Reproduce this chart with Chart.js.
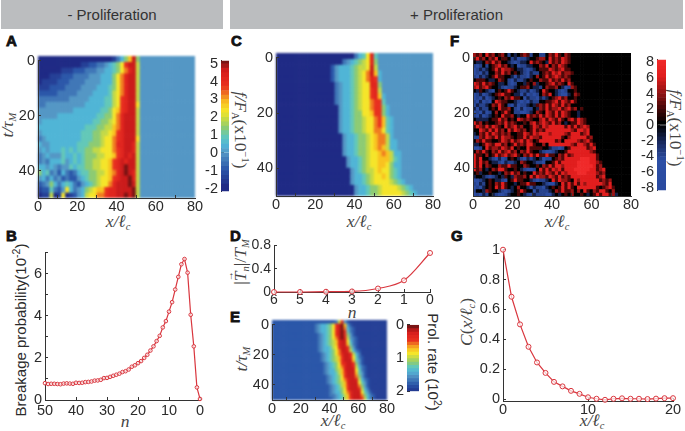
<!DOCTYPE html>
<html>
<head>
<meta charset="utf-8">
<script src="https://cdn.jsdelivr.net/npm/chart.js@4"></script>
<style>
html, body { margin: 0; padding: 0; background: #fff; }
#page { position: relative; width: 685px; height: 431px; overflow: hidden; font-family: "Liberation Sans", sans-serif; color: #2b2b2b; }
canvas { position: absolute; }
.band { position: absolute; top: 0; height: 28.5px; background: #bbbdbf; text-align: center; font-size: 15px; line-height: 30px; color: #333; }
.tag { position: absolute; font-size: 15px; font-weight: bold; line-height: 15px; color: #111; -webkit-text-stroke: 0.8px #111; }
.lab { position: absolute; white-space: nowrap; line-height: 1; font-family: "Liberation Serif", serif; font-size: 17.5px; color: #444; }
.lab i { font-style: italic; }
.lab sub { font-size: 10.5px; line-height: 0; vertical-align: -3px; }
.lab sup { font-size: 10.5px; line-height: 0; }
.lab.sans { font-family: "Liberation Sans", sans-serif; color: #2b2b2b; font-size: 15px; }
.vec { position: relative; display: inline-block; }
.vec span { position: absolute; left: 0; top: -7px; font-size: 10px; font-style: normal; }
</style>
</head>
<body>
<div id="page">
  <div class="band" style="left:1px;width:222px">- Proliferation</div>
  <div class="band" style="left:230px;width:453px">+ Proliferation</div>
  <div class="tag" style="left:6px;top:33px">A</div>
  <div class="tag" style="left:6px;top:228px">B</div>
  <div class="tag" style="left:231px;top:33px">C</div>
  <div class="tag" style="left:230px;top:228px">D</div>
  <div class="tag" style="left:230px;top:309px">E</div>
  <div class="tag" style="left:450px;top:33px">F</div>
  <div class="tag" style="left:451px;top:228px">G</div>

  <div class="lab" style="left:8px;top:125px;transform:translate(-50%,-50%) rotate(-90deg)"><i>t/τ<sub>M</sub></i></div>
  <div class="lab" style="left:118px;top:222px;transform:translate(-50%,-50%)"><i>x/ℓ<sub>c</sub></i></div>
  <div class="lab" style="left:359px;top:222px;transform:translate(-50%,-50%)"><i>x/ℓ<sub>c</sub></i></div>
  <div class="lab" style="left:557px;top:222px;transform:translate(-50%,-50%)"><i>x/ℓ<sub>c</sub></i></div>
  <div class="lab" style="left:240px;top:130px;transform:translate(-50%,-50%) rotate(90deg)"><i>f/F</i><sub>A</sub>(x10<sup>−1</sup>)</div>
  <div class="lab" style="left:675px;top:128px;transform:translate(-50%,-50%) rotate(90deg)"><i>f/F</i><sub>A</sub>(x10<sup>−1</sup>)</div>
  <div class="lab sans" style="left:20px;top:330px;transform:translate(-50%,-50%) rotate(-90deg)">Breakage probability(10<sup>-2</sup>)</div>
  <div class="lab" style="left:125px;top:422px;transform:translate(-50%,-50%)"><i>n</i></div>
  <div class="lab" style="left:241px;top:262px;transform:translate(-50%,-50%) rotate(-90deg)">|<span class="vec"><i>T</i><span>→</span></span><i><sub>n</sub></i>|/<i>T<sub>M</sub></i></div>
  <div class="lab" style="left:352px;top:313px;transform:translate(-50%,-50%)"><i>n</i></div>
  <div class="lab" style="left:242px;top:359px;transform:translate(-50%,-50%) rotate(-90deg)"><i>t/τ<sub>M</sub></i></div>
  <div class="lab" style="left:333px;top:421px;transform:translate(-50%,-50%)"><i>x/ℓ<sub>c</sub></i></div>
  <div class="lab sans" style="left:433px;top:362px;transform:translate(-50%,-50%) rotate(90deg)">Prol. rate (10<sup>2</sup>)</div>
  <div class="lab" style="left:467px;top:322px;transform:translate(-50%,-50%) rotate(-90deg)"><i>C</i>(<i>x/ℓ<sub>c</sub></i>)</div>
  <div class="lab" style="left:592px;top:421px;transform:translate(-50%,-50%)"><i>x/ℓ<sub>c</sub></i></div>
</div>
<script>
// heat maps, read by eye, one string per row (t = 0 at top), one hex level per cell
const heatA = [
    "00000000000000000001357ae7",
    "0000000000011223345679cee8",
    "0000001112223334455679bde8",
    "000111222333344455579bdee8",
    "011112223333444455579bdee8",
    "111222233334444555679bdee8",
    "222223333344445555689bdee8",
    "333333334444455556689cdee8",
    "334444444444555556689cdee9",
    "44444444455555556679acdee8",
    "44444555555555566779bdeee8",
    "45555555555555667789bdeee8",
    "5555555555556667788abdeee8",
    "4555555555566677889acdeee8",
    "3455555555566677899bcdeee9",
    "5445555555666777899bddeed8",
    "4545556565667788999bcdeed8",
    "3454446556567778899acdede8",
    "343555645656778899acdedee8",
    "554543446566778899acdefee8",
    "756342532356677889abdefed8",
    "453534232245677899acdeefd8",
    "234753565324567899bdeeefe8",
    "122632495345789aacddeeeef8",
    "011801901245899bbcddeefef8"
];
const heatC = [
    "000000000000000000003569d6",
    "000000000000000003456789d7",
    "000000000000002455567889e8",
    "00000000000000245556789bea5",
    "00000000000000245556789bdc5",
    "000000000000000345567899dd7",
    "000000000000000345567899cd8",
    "000000000000000345567899cda5",
    "000000000000000345567899bcc6",
    "000000000000000045567899bcc75",
    "000000000000000045567799acc75",
    "0000000000000000455677899bca65",
    "0000000000000000455677899bca65",
    "0000000000000000455677899bb965",
    "0000000000000000045567789abb85",
    "0000000000000000045567789abb855",
    "0000000000000000045567789aba855",
    "00000000000000000455677899aba855",
    "00000000000000000045567899aaa865",
    "00000000000000000045567899aa9755",
    "000000000000000000045678 89a99765".replace(" ", ""),
    "000000000000000000045567899a9765",
    "000000000000000000045567899998765",
    "00000000000000000000455677899998765",
    "000000000000000000004556778999998765"
];
const heatE = [
    "222222222222222222222238c42",
    "2222222222222223455679cefa42",
    "2222222222222223455679cefb532",
    "2222222222222223455679cefc632",
    "2222222222222222345679cefc742",
    "2222222222222222345679befd8432",
    "2222222222222222345678adee9532",
    "2222222222222222345678adeea632",
    "22222222222222223455689ceec742",
    "22222222222222223455679beed8532",
    "22222222222222222345679bdeed853",
    "22222222222222222345678aceed9632",
    "22222222222222222345678aceeea642",
    "222222222222222222345679cdeec742",
    "222222222222222222345679bdeed8532",
    "222222222222222222345578adeee9632",
    "222222222222222222345568aceeea642",
    "2222222222222222222345679ceeeb742",
    "2222222222222222222345679bdeed8532",
    "2222222222222222222345678adeee9642",
    "2222222222222222222234568aceeeb742",
    "22222222222222222222345679ceeed853",
    "22222222222222222222345579bdeee9642",
    "22222222222222222222334568adeeeb7532",
    "22222222222222222222234568aceeec8532"
];
// finer grid than the others. level 7 is zero force, 0 is about -7, f is +8
const heatF = [
    "b9b7d9b79b737579b9377337b9d97b9",
    "9d9b7b9d7997351335779bb7d9b9db9",
    "7557b9d9b775313557d9b975d9b9db9",
    "3137379bd9b7571335577b9d7b9db97",
    "1353579d9dbb975531357999db9bd99",
    "1315377b9d9b79753153379b9dbd9bb9",
    "3153579d997751533157b79d9bdb9b97",
    "79997557b973153357977b99d9b9d9b7",
    "db9d9b9755731377597b5779bd9b97d9",
    "bd9bd977531335799b75537b99b7513b9",
    "75975317979d9753351357d9775313779",
    "13513579bd997551513137b9d7531157b9",
    "1315135797b9d9971533153579bd9b7797",
    "3151317db9977531315337799bd9db9d97",
    "153357b9d973151335759b9d9db9d9b777",
    "51533797d99b731513375b9d9bbd9bd9b79",
    "1315137b79d973311357b97db9d9db97757",
    "315135797d99b7577d9b9d9db9d9db9775",
    "75555799d9b797db9b977bd9db9d97bd9db9",
    "d9b79779b9d9b97797bd9bdb9d9b75799db9",
    "9db9d9db97d9bd9b779db9dbddddd9d9d9bdb",
    "77db9d9d9b7d9db9b79d9b9ddddddddb9ddbd",
    "57b9d9db9b9b7799db9dbdddbddddb9ddd9bd",
    "33b9db9d9dbb9799d9dbb9dddddd97bddddd9b",
    "7b9d99779db9d9bd9db79ddddd9b7ddddb9bd9",
    "5579db9dd9b79d9b9dd977b7dddddddb9ddb9d9",
    "1137d9bb9db9d7977d9999775331379ddddd9bd",
    "7b9d97b9d9bd9b7b9d977531135779dddddddb9",
    "d997b79d9bd9bd97b9d9d99d997b9d9bddddddd9",
    "d9d775315137975315357513379b9dddddfffdd9",
    "d9d9b7553153357b9775331779d9dddddffffddb9",
    "d9d7b977b99d9977b97797b9d9ddbddddfffffd9b",
    "d9b757b9dd97797531137d9d9dbd9dddfffffdd9bd",
    "7957797757b9d9b7977d9b9db9d9dbdddfffdddb9b",
    "5775313575975b99b7d9dbb9db9d9b9dddddddd9bd",
    "1135797553179d99775313357d9dbb97dbdddddd9b9b",
    "3153797b9d9775799d9977531157d9d9d9dbdddddb9d7",
    "1315797d9d9757b7751533157979d9d97dddddd979bd9",
    "3775b9775313579d9771533357b9d99b7b7d97b9dd97b",
    "1315375311357797531533311575797b7797579d9dd9b5"
];

const barAC = [-2.25,-2,-1.75,-1.5,-1.25,-1,-0.75,-0.5,-0.25,0,0.25,0.5,0.75,1,1.25,1.5,1.75,2,2.25,2.5,2.75,3,3.25,3.5,3.75,4,4.25,4.5,4.75,5];
const barF = [-8.5,-8,-7.5,-7,-6.5,-6,-5.5,-5,-4.5,-4,-3.5,-3,-2.5,-2,-1.5,-1,-0.5,0,0.5,1,1.5,2,2.5,3,3.5,4,4.5,5,5.5,6,6.5,7,7.5,8];
const barE = [0,0.1,0.2,0.3,0.4,0.5,0.6,0.7,0.8,0.9,1,1.1,1.2,1.3,1.4,1.5,1.6,1.7,1.8,1.9];

const breakN = [50,49,48,47,46,45,44,43,42,41,40,39,38,37,36,35,34,33,32,31,30,29,28,27,26,25,24,23,22,21,20,19,18,17,16,15,14,13,12,11,10,9,8,7,6,5,4,3,2,1,0];
const breakP = [0.8,0.76,0.77,0.77,0.76,0.75,0.78,0.79,0.78,0.77,0.82,0.81,0.82,0.85,0.86,0.88,0.92,0.93,0.96,1.04,1.05,1.1,1.15,1.2,1.25,1.33,1.37,1.45,1.58,1.65,1.75,1.85,2,2.15,2.35,2.55,2.8,3.05,3.45,3.75,4.2,4.65,5.25,5.85,6.45,6.7,6.05,4.05,2.55,0.6,0.05];
const torqueN = [6,5,4,3,2,1,0];
const torqueT = [0,0,0.005,0.01,0.06,0.2,0.67];
const corrX = [0,1,2,3,4,5,6,7,8,9,10,11,12,13,14,15,16,17,18,19,20];
const corrC = [1,0.685,0.5,0.35,0.245,0.175,0.115,0.085,0.055,0.035,0.012,0.002,-0.005,0.002,0.005,0.002,0.002,0,0.003,0.006,0.006];

const xTicks80 = [0,20,40,60,80];
const tTicks50 = [0,20,40];
const acTicks = [-2,-1,0,1,2,3,4,5];
const fTicks = [-8,-6,-4,-2,0,2,4,6,8];
const eTicks = [0,1,2];
const breakXTicks = [50,40,30,20,10,0];
const breakYTicks = [0,1,2,3,4,5,6,7];
const torqueXTicks = [6,5,4,3,2,1,0];
const torqueYTicks = [0,0.4,0.8];
const corrXTicks = [0,10,20];
const corrYTicks = [0,0.2,0.4,0.6,0.8,1];

const axisColor = '#333';
const textColor = '#2b2b2b';
const lineRed = '#d9363e';
const jetStops = [
    [0, '#1f2a85'], [0.13, '#2a55a8'], [0.27, '#5599c6'], [0.33, '#4fb4d8'], [0.4, '#63c8b8'],
    [0.47, '#8fcb70'], [0.53, '#c0d84a'], [0.6, '#f5e52a'], [0.67, '#f9c020'], [0.73, '#f08020'],
    [0.8, '#e8301f'], [0.87, '#e0241e'], [0.93, '#cf1b1b'], [1, '#7a1414']
];
const rbStops = [
    [0, '#2a4aa0'], [0.2, '#2d4fa5'], [0.34, '#1a2a60'], [0.47, '#05050a'], [0.5, '#000000'],
    [0.53, '#160303'], [0.62, '#4a0808'], [0.75, '#9a1414'], [0.87, '#e01e1e'], [1, '#f02a2a']
];

function hex(c) { return [1, 3, 5].map(i => parseInt(c.substr(i, 2), 16)); }
function ramp(stops, t) {
    t = Math.max(0, Math.min(1, t));
    for (let i = 1; i < stops.length; i++) {
        if (t <= stops[i][0]) {
            const a = stops[i - 1], b = stops[i], k = (t - a[0]) / (b[0] - a[0]);
            const ca = hex(a[1]), cb = hex(b[1]);
            return 'rgb(' + ca.map((v, j) => Math.round(v + (cb[j] - v) * k)).join(',') + ')';
        }
    }
    return stops[stops.length - 1][1];
}
const jetLevel = c => ramp(jetStops, parseInt(c, 16) / 15);
const rbLevel = c => ramp(rbStops, (parseInt(c, 16) - 7 + 8) / 16);

function addCanvas(left, top, width, height, m) {
    const c = document.createElement('canvas');
    c.width = width + m.l + m.r;
    c.height = height + m.t + m.b;
    c.style.left = (left - m.l) + 'px';
    c.style.top = (top - m.t) + 'px';
    document.getElementById('page').appendChild(c);
    return c;
}

function axis(extra, ticks, size, m, isX, labelFn, pad) {
    return Object.assign({
        border: { color: axisColor, width: 1 },
        grid: { drawOnChartArea: false, tickLength: -3, color: axisColor },
        ticks: { color: textColor, font: { family: 'Liberation Sans', size: size }, autoSkip: false, maxRotation: 0, minRotation: 0, padding: pad || (isX ? 3 : 6), callback: labelFn || (v => v) },
        afterBuildTicks: s => { s.ticks = ticks.map(v => ({ value: v })); },
        afterFit: s => { if (isX) s.height = m.b; else s.width = m.l; }
    }, extra);
}

function baseOptions(m, scales) {
    return {
        responsive: false,
        animation: false,
        events: [],
        layout: { autoPadding: false, padding: { top: m.t, right: m.r, left: 0, bottom: 0 } },
        plugins: { legend: { display: false }, tooltip: { enabled: false } },
        scales: scales
    };
}

// cells go on their own blurred canvas (the reference is a soft jpeg), axes on a sharp one above
function heatMap(rows, background, colorOf, box, blur, xStep, tStep, cols) {
    const m = { l: 36, r: 14, t: 10, b: 24 };
    const datasets = rows.map((row, r) => {
        const cells = row.padEnd(cols, background).split('');
        return {
            data: cells.map((c, i) => ({ x: (i + 0.5) * xStep, y: [r * tStep, (r + 1) * tStep] })),
            backgroundColor: cells.map(colorOf),
            borderWidth: 0,
            grouped: false,
            barPercentage: 1,
            categoryPercentage: 1
        };
    });
    const cellCanvas = addCanvas(box[0], box[1], box[2], box[3], m);
    cellCanvas.style.filter = 'blur(' + blur + 'px)';
    new Chart(cellCanvas, {
        type: 'bar',
        data: { datasets: datasets },
        options: baseOptions(m, {
            x: { type: 'linear', min: 0, max: 80, offset: false, border: { display: false }, grid: { display: false }, ticks: { display: false }, afterFit: s => { s.height = m.b; } },
            y: { type: 'linear', reverse: true, min: 0, max: 50, border: { display: false }, grid: { display: false }, ticks: { display: false }, afterFit: s => { s.width = m.l; } }
        })
    });
    new Chart(addCanvas(box[0], box[1], box[2], box[3], m), {
        type: 'bar',
        data: { datasets: [] },
        options: baseOptions(m, {
            x: axis({ type: 'linear', min: 0, max: 80, offset: false }, xTicks80, 14.5, m, true),
            y: axis({ type: 'linear', reverse: true, min: 0, max: 50 }, tTicks50, 14.5, m, false)
        })
    });
}

function colorBar(levels, step, colorOf, ticks, yMin, yMax, reverse, box) {
    const m = { l: 24, r: 1, t: 10, b: 6 };
    const datasets = levels.map(v => ({
        data: [{ x: 'c', y: [v, v + step] }],
        backgroundColor: colorOf(v),
        borderWidth: 0,
        grouped: false,
        barPercentage: 1,
        categoryPercentage: 1
    }));
    new Chart(addCanvas(box[0], box[1], box[2], box[3], m), {
        type: 'bar',
        data: { labels: ['c'], datasets: datasets },
        options: baseOptions(m, {
            x: { display: false },
            y: axis({ type: 'linear', min: yMin, max: yMax, reverse: reverse }, ticks, 14.5, m, false)
        })
    });
}

function linePlot(xs, ys, cfg) {
    const m = { l: 40, r: 14, t: 10, b: 22 };
    new Chart(addCanvas(cfg.box[0], cfg.box[1], cfg.box[2], cfg.box[3], m), {
        type: 'line',
        data: {
            labels: xs,
            datasets: [{
                data: xs.map((x, i) => ({ x: x, y: ys[i] })),
                borderColor: lineRed,
                borderWidth: 1.2,
                backgroundColor: '#fff',
                pointBorderColor: lineRed,
                pointBackgroundColor: 'rgba(255,255,255,0.7)',
                pointBorderWidth: 1,
                pointRadius: cfg.r,
                cubicInterpolationMode: cfg.smooth ? 'monotone' : 'default',
                tension: 0,
                clip: false
            }]
        },
        options: baseOptions(m, {
            x: axis({ type: 'linear', min: cfg.xMin, max: cfg.xMax, reverse: cfg.xRev }, cfg.xTicks, cfg.size, m, true, null, cfg.xPad),
            y: axis({ type: 'linear', min: cfg.yMin, max: cfg.yMax }, cfg.yTicks, cfg.size, m, false, cfg.yLabel)
        })
    });
}

const acColor = v => ramp(jetStops, (v + 2) / 7);
const fColor = v => ramp(rbStops, (v + 8) / 16);
const eColor = v => ramp(jetStops, 1 - v / 2);

heatMap(heatA, '4', jetLevel, [38, 56, 157, 142], 0.9, 2, 2, 40);
heatMap(heatC, '4', jetLevel, [276, 53, 157, 143], 1, 2, 2, 40);
heatMap(heatF, '7', rbLevel, [473, 53, 158, 143], 0.5, 1.6, 1.25, 50);
heatMap(heatE, '1', jetLevel, [272, 320, 115, 80], 0.9, 2, 2, 40);

colorBar(barAC, 0.25, acColor, acTicks, -2.15, 5.17, false, [221, 56, 8, 144]);
colorBar(barF, 0.5, fColor, fTicks, -8.3, 8.3, false, [657, 55, 9, 144]);
colorBar(barE, 0.1, eColor, eTicks, 0, 2, true, [407, 320, 12, 80]);

linePlot(breakN, breakP, { box: [45, 248, 155, 152], xMin: 0, xMax: 50, xRev: true, yMin: 0, yMax: 7, xTicks: breakXTicks, yTicks: breakYTicks, size: 14.5, r: 1.8, xPad: 5, yLabel: v => v % 2 ? '' : v });
linePlot(torqueN, torqueT, { box: [274, 241, 156, 51], xMin: 0, xMax: 6, xRev: true, yMin: 0, yMax: 0.8, xTicks: torqueXTicks, yTicks: torqueYTicks, size: 14, r: 2.5, smooth: true });
linePlot(corrX, corrC, { box: [503, 245, 170, 156], xMin: 0, xMax: 20, yMin: -0.013, yMax: 1, xTicks: corrXTicks, yTicks: corrYTicks, size: 14.5, r: 2.5 });
</script>
</body>
</html>
